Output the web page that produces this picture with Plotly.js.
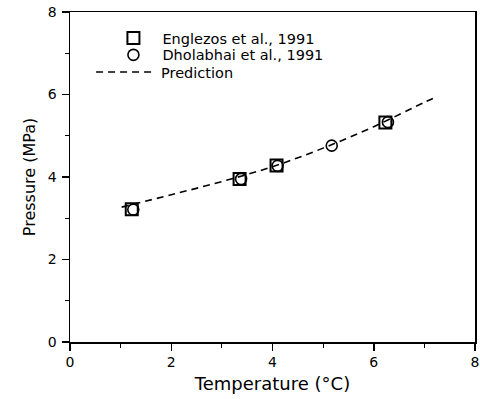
<!DOCTYPE html>
<html><head><meta charset="utf-8">
<script src="https://cdn.plot.ly/plotly-3.0.1.min.js"></script>
<style>html,body{margin:0;padding:0;background:#fff}#c{width:480px;height:399px}</style>
</head><body><div id="c"></div>
<script>
const englezosT = [1.22, 3.35, 4.08, 6.23];
const englezosP = [3.22, 3.95, 4.28, 5.32];
const dholabhaiT = [1.25, 3.38, 4.10, 5.17, 6.28];
const dholabhaiP = [3.21, 3.95, 4.27, 4.76, 5.33];
const predT = [1.02, 2.0, 3.0, 4.0, 5.0, 6.0, 7.0, 7.26];
const predP = [3.27, 3.57, 3.89, 4.25, 4.70, 5.22, 5.81, 5.95];
const xTicks = [0, 2, 4, 6, 8];
const yTicks = [0, 2, 4, 6, 8];

const font = "DejaVu Sans, Liberation Sans, Arial, sans-serif";
const traces = [
  {x: englezosT, y: englezosP, mode: 'markers', name: 'Englezos et al., 1991', legend: 'legend',
   marker: {symbol: 'square-open', size: 12, color: '#000', line: {width: 2, color: '#000'}}},
  {x: dholabhaiT, y: dholabhaiP, mode: 'markers', name: 'Dholabhai et al., 1991', legend: 'legend2',
   marker: {symbol: 'circle-open', size: 11, color: '#000', line: {width: 1.6, color: '#000'}}},
  {x: predT, y: predP, mode: 'lines', name: 'Prediction', legend: 'legend3',
   line: {shape: 'spline', dash: '7px,5px', width: 1.6, color: '#000'}}
];
const axisCommon = {
  showgrid: false, zeroline: false, showline: true, linecolor: '#000', linewidth: 1.5,
  mirror: true, ticks: 'outside', ticklen: 7, tickwidth: 1.5, tickcolor: '#000',
  tickfont: {family: font, size: 14, color: '#000'},
  minor: {ticks: 'outside', ticklen: 4, tickwidth: 1, tickcolor: '#000', dtick: 1}
};
function leg(x, y, iw) {
  return {x: x, y: y, xanchor: 'left', yanchor: 'middle', bgcolor: 'rgba(0,0,0,0)',
    font: {family: font, size: 14.5, color: '#000'}, itemwidth: iw};
}
const layout = {
  width: 480, height: 399,
  margin: {l: 70, r: 5, t: 12, b: 57},
  paper_bgcolor: '#fff', plot_bgcolor: '#fff',
  font: {family: font, size: 14, color: '#000'},
  showlegend: true,
  legend: leg(0.085, 0.921, 48),
  legend2: leg(0.085, 0.870, 48),
  legend3: leg(0.052, 0.818, 60),
  xaxis: Object.assign({}, axisCommon, {range: [0, 8], tickvals: xTicks, ticktext: xTicks.map(String),
    title: {text: 'Temperature (°C)', font: {family: font, size: 18, color: '#000'}, standoff: 8}}),
  yaxis: Object.assign({}, axisCommon, {range: [0, 8], tickvals: yTicks, ticktext: yTicks.map(String),
    ticklabelstandoff: 2,
    title: {text: 'Pressure (MPa)', font: {family: font, size: 16, color: '#000'}, standoff: 8}})
};
Plotly.newPlot('c', traces, layout, {displayModeBar: false, staticPlot: true});
</script></body></html>
